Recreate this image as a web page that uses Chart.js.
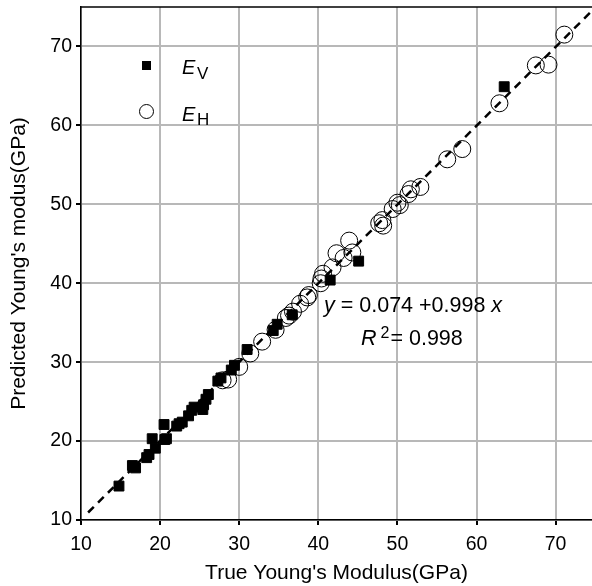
<!DOCTYPE html>
<html lang="en">
<head>
<meta charset="UTF-8">
<title>Young's modulus prediction</title>
<script src="https://cdn.jsdelivr.net/npm/chart.js"></script>
<style>
  body { margin: 0; background: #fff; }
  #wrap { width: 592px; height: 586px; }
</style>
</head>
<body>
<div id="wrap"><canvas id="chart" width="592" height="586"></canvas></div>
<script>
// E_V (filled squares)
const evTrue = [14.8, 16.5, 16.9, 18.3, 18.6, 19.0, 19.4, 20.5, 20.6, 20.8, 22.1, 22.4, 22.8, 23.6, 24.0, 24.3,
                25.4, 25.5, 25.8, 26.1, 27.3, 27.7, 29.0, 29.4, 31.0, 34.3, 34.8, 36.7, 41.5, 45.1, 63.5];
const evPred = [14.3, 16.9, 16.6, 17.9, 18.3, 20.3, 19.1, 22.1, 20.2, 20.3, 21.9, 22.2, 22.4, 23.2, 23.9, 24.3,
                24.0, 24.6, 25.3, 25.9, 27.6, 28.0, 29.0, 29.6, 31.6, 34.0, 34.8, 36.0, 40.4, 42.8, 64.9];
// E_H (open circles)
const ehTrue = [27.9, 28.6, 30.0, 31.4, 32.9, 34.6, 35.9, 36.3, 36.8, 37.7, 38.6, 38.8, 40.3, 40.4, 40.6, 41.8,
                42.3, 43.2, 43.9, 44.3, 47.7, 48.1, 48.2, 49.4, 50.0, 50.3, 51.4, 51.7, 52.9, 56.3, 58.2, 62.9,
                67.5, 69.1, 71.1];
const ehPred = [27.7, 27.8, 29.4, 31.1, 32.6, 34.1, 35.6, 35.9, 36.4, 37.4, 38.2, 38.5, 40.0, 40.6, 41.2, 42.0,
                43.8, 43.2, 45.4, 43.9, 47.6, 48.0, 47.3, 49.4, 50.2, 49.9, 51.3, 51.9, 52.2, 55.7, 57.0, 62.8,
                67.6, 67.7, 71.5];
// fitted line y = 0.074 + 0.998x, end points
const fitTrue = [10.9, 75];
const fitPred = [10.95, 74.92];

const xTicks = [10, 20, 30, 40, 50, 60, 70];
const yTicks = [10, 20, 30, 40, 50, 60, 70];

const toPts = (xs, ys) => xs.map((v, i) => ({ x: v, y: ys[i] }));
const FONT = '"Liberation Sans", Arial, sans-serif';

// legend, equation and top frame
const extras = {
  id: 'extras',
  afterDraw(chart) {
    const { ctx, chartArea: a } = chart;
    ctx.save();
    ctx.strokeStyle = '#000';
    ctx.lineWidth = 1.5;
    ctx.beginPath();
    ctx.moveTo(a.left, a.top);
    ctx.lineTo(a.right, a.top);
    ctx.stroke();

    // legend marks
    ctx.fillStyle = '#000';
    ctx.fillRect(a.left + 61, 61, 9, 9);
    ctx.lineWidth = 1;
    ctx.beginPath();
    ctx.arc(a.left + 65.5, 111.5, 7, 0, Math.PI * 2);
    ctx.stroke();

    ctx.textBaseline = 'alphabetic';
    ctx.textAlign = 'left';
    ctx.font = 'italic 20px ' + FONT;
    ctx.fillText('E', a.left + 101, 74);
    ctx.fillText('E', a.left + 101, 121);
    ctx.font = '17px ' + FONT;
    ctx.fillText('V', a.left + 116, 79);
    ctx.fillText('H', a.left + 116, 125);

    // equation
    const size = 21.5;
    ctx.font = 'italic ' + size + 'px ' + FONT;
    let x = 324;
    ctx.fillText('y', x, 312);
    x += ctx.measureText('y').width;
    ctx.font = size + 'px ' + FONT;
    ctx.fillText(' = 0.074 +0.998 ', x, 312);
    x += ctx.measureText(' = 0.074 +0.998 ').width;
    ctx.font = 'italic ' + size + 'px ' + FONT;
    ctx.fillText('x', x, 312);

    x = 361;
    ctx.fillText('R', x, 345);
    x += ctx.measureText('R').width + 4;
    ctx.font = '16px ' + FONT;
    ctx.fillText('2', x, 338);
    x += ctx.measureText('2').width + 1;
    ctx.font = size + 'px ' + FONT;
    ctx.fillText('= 0.998', x, 345);
    ctx.restore();
  }
};

new Chart(document.getElementById('chart'), {
  type: 'scatter',
  data: {
    datasets: [
      {
        label: 'fit',
        data: toPts(fitTrue, fitPred),
        showLine: true,
        borderColor: '#000',
        borderWidth: 2.5,
        borderDash: [8, 6],
        pointRadius: 0
      },
      {
        label: 'EH',
        data: toPts(ehTrue, ehPred),
        pointStyle: 'circle',
        pointRadius: 8.5,
        borderWidth: 1,
        borderColor: '#000',
        backgroundColor: 'rgba(0,0,0,0)'
      },
      {
        label: 'EV',
        data: toPts(evTrue, evPred),
        pointStyle: 'rect',
        pointRadius: 7,
        borderWidth: 1,
        borderColor: '#000',
        backgroundColor: '#000'
      }
    ]
  },
  options: {
    responsive: false,
    animation: false,
    layout: { autoPadding: false, padding: { top: 7, left: 0, right: 0, bottom: 0 } },
    plugins: { legend: { display: false }, tooltip: { enabled: false } },
    scales: {
      x: {
        type: 'linear',
        min: 10,
        max: 74.6,
        afterBuildTicks: s => { s.ticks = xTicks.map(v => ({ value: v })); },
        afterFit: s => { s.height = 66; s.paddingLeft = 0; s.paddingRight = 0; },
        grid: { color: '#b8b8b8', lineWidth: 2, tickLength: 5, tickColor: '#000' },
        border: { color: '#000', width: 1.5 },
        ticks: { color: '#000', font: { family: FONT, size: 19.5 }, padding: 8, maxRotation: 0 },
        title: { display: true, text: "True Young's Modulus(GPa)", color: '#000',
                 font: { family: FONT, size: 21 }, padding: { top: -2, bottom: 0 } }
      },
      y: {
        type: 'linear',
        min: 10,
        max: 75,
        afterBuildTicks: s => { s.ticks = yTicks.map(v => ({ value: v })); },
        afterFit: s => { s.width = 81; s.paddingTop = 0; s.paddingBottom = 0; },
        grid: { color: '#b8b8b8', lineWidth: 2, tickLength: 5, tickColor: '#000' },
        border: { color: '#000', width: 1.5 },
        ticks: { color: '#000', font: { family: FONT, size: 19.5 }, padding: 4 },
        title: { display: true, text: "Predicted Young's modus(GPa)", color: '#000',
                 font: { family: FONT, size: 21 }, padding: { top: 7, bottom: 0 } }
      }
    }
  },
  plugins: [extras]
});
</script>
</body>
</html>
